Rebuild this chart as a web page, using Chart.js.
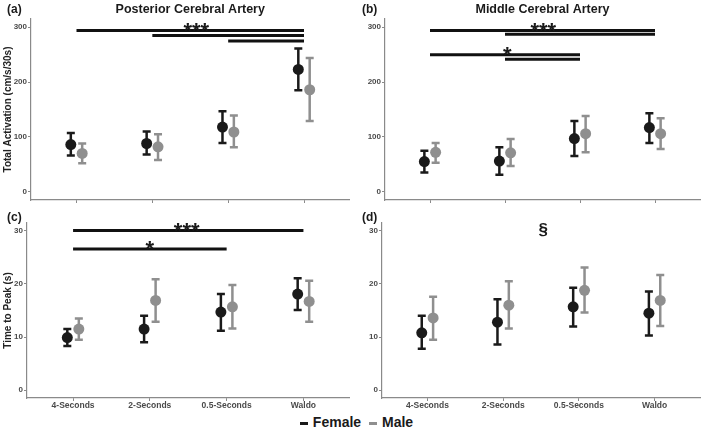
<!DOCTYPE html>
<html>
<head>
<meta charset="utf-8">
<script src="https://cdn.jsdelivr.net/npm/chart.js@4.4.0/dist/chart.umd.min.js"></script>
<style>
  body { margin: 0; background: #fff; }
  #fig { position: relative; width: 709px; height: 433px; font-family: "Liberation Sans", Arial, sans-serif; }
  #fig canvas { position: absolute; }
  #legend { position: absolute; left: 0; top: 414px; width: 709px; text-align: center; font-weight: bold; font-size: 14px; color: #1a1a1a; }
  #legend span.key { display: inline-block; width: 8px; height: 3px; vertical-align: middle; margin: 0 5px 0 4px; }
</style>
</head>
<body>
<div id="fig">
  <canvas id="pcaAct" width="355" height="208" style="left:0;top:0"></canvas>
  <canvas id="mcaAct" width="354" height="208" style="left:355px;top:0"></canvas>
  <canvas id="pcaTtp" width="355" height="202" style="left:0;top:208px"></canvas>
  <canvas id="mcaTtp" width="354" height="202" style="left:355px;top:208px"></canvas>
  <div id="legend"><span class="key" style="background:#1a1a1a"></span>Female <span class="key" style="background:#8f8f8f"></span>Male</div>
</div>
<script>
// categories (x axis)
var categories = ['4-Seconds', '2-Seconds', '0.5-Seconds', 'Waldo'];

// (a) Posterior Cerebral Artery - total activation
var pcaActFemale = [86, 88, 118, 223];
var pcaActFemaleLow = [66, 68, 89, 185];
var pcaActFemaleHigh = [107, 110, 147, 261];
var pcaActMale = [70, 82, 109, 186];
var pcaActMaleLow = [52, 58, 81, 129];
var pcaActMaleHigh = [88, 105, 139, 244];
var pcaActSig = [[1, 4, 294], [2, 4, 285], [3, 4, 275]];
var pcaActMarks = [['***', 2.58, 281]];

// (b) Middle Cerebral Artery - total activation
var mcaActFemale = [55, 56, 97, 117];
var mcaActFemaleLow = [35, 31, 65, 89];
var mcaActFemaleHigh = [75, 81, 129, 143];
var mcaActMale = [72, 71, 106, 106];
var mcaActMaleLow = [53, 47, 72, 78];
var mcaActMaleHigh = [89, 96, 138, 134];
var mcaActSig = [[1, 4, 294], [2, 4, 287], [1, 3, 250], [2, 3, 241.5]];
var mcaActMarks = [['***', 2.51, 281], ['*', 2.03, 237]];

// (c) time to peak, PCA
var pcaTtpFemale = [9.9, 11.5, 14.7, 18.1];
var pcaTtpFemaleLow = [8.3, 9.0, 11.2, 15.1];
var pcaTtpFemaleHigh = [11.5, 14.0, 18.1, 21.1];
var pcaTtpMale = [11.5, 16.9, 15.7, 16.7];
var pcaTtpMaleLow = [9.5, 12.9, 11.6, 12.9];
var pcaTtpMaleHigh = [13.5, 20.9, 19.8, 20.6];
var pcaTtpSig = [[1, 4, 30.1], [1, 3, 26.6]];
var pcaTtpMarks = [['***', 2.48, 28.6], ['*', 2.0, 25.3]];

// (d) time to peak, MCA
var mcaTtpFemale = [10.8, 12.8, 15.7, 14.5];
var mcaTtpFemaleLow = [7.8, 8.6, 12.0, 10.3];
var mcaTtpFemaleHigh = [14.0, 17.1, 19.3, 18.6];
var mcaTtpMale = [13.6, 16.0, 18.8, 16.9];
var mcaTtpMaleLow = [9.5, 11.6, 14.6, 12.1];
var mcaTtpMaleHigh = [17.6, 20.5, 23.1, 21.7];
var mcaTtpSig = [];
var mcaTtpMarks = [['§', 2.53, 29.2]];

// y tick labels
var actTicks = [0, 100, 200, 300];
var ttpTicks = [0, 10, 20, 30];

var femaleColor = '#1a1a1a';
var maleColor = '#8f8f8f';
var axisColor = '#8a8a8a';
var labelColor = '#4a4a4a';
var fontFamily = '"Liberation Sans", Arial, sans-serif';
var dodge = 0.075;

// draws the error bars under the points
var errorBarPlugin = {
    id: 'errorBars',
    beforeDatasetsDraw: function(chart) {
        var ctx = chart.ctx;
        var y = chart.scales.y;
        chart.data.datasets.forEach(function(ds, di) {
            if (!ds.errLow) return;
            var meta = chart.getDatasetMeta(di);
            ctx.save();
            ctx.strokeStyle = ds.borderColor;
            ctx.lineWidth = 2.5;
            meta.data.forEach(function(pt, i) {
                var lo = y.getPixelForValue(ds.errLow[i]);
                var hi = y.getPixelForValue(ds.errHigh[i]);
                ctx.beginPath();
                ctx.moveTo(pt.x, lo); ctx.lineTo(pt.x, hi);
                ctx.moveTo(pt.x - 4, lo); ctx.lineTo(pt.x + 4, lo);
                ctx.moveTo(pt.x - 4, hi); ctx.lineTo(pt.x + 4, hi);
                ctx.stroke();
            });
            ctx.restore();
        });
    }
};

// panel letter, panel title and significance marks
var textPlugin = {
    id: 'panelText',
    afterDraw: function(chart) {
        var o = chart.options.plugins.panelText;
        var ctx = chart.ctx;
        var area = chart.chartArea;
        ctx.save();
        ctx.fillStyle = '#1a1a1a';
        ctx.textBaseline = 'middle';
        ctx.font = 'bold 12px ' + fontFamily;
        ctx.textAlign = 'left';
        ctx.fillText(o.letter, 7, 10);
        if (o.title) {
            ctx.font = 'bold 12.5px ' + fontFamily;
            ctx.textAlign = 'center';
            ctx.fillText(o.title, (area.left + area.right) / 2, 10);
        }
        ctx.textAlign = 'center';
        ctx.textBaseline = 'alphabetic';
        o.marks.forEach(function(m) {
            ctx.font = (m[0] === '§' ? 'bold 17px ' : 'bold 22px ') + fontFamily;
            ctx.fillText(m[0], chart.scales.x.getPixelForValue(m[1]), chart.scales.y.getPixelForValue(m[2]));
        });
        ctx.restore();
    }
};

function buildPanel(id, p) {
    var ctx = document.getElementById(id).getContext('2d');
    var datasets = [];
    datasets.push({
        label: 'Female',
        data: p.female.map(function(v, i) { return {x: i + 1 - dodge, y: v}; }),
        errLow: p.femaleLow, errHigh: p.femaleHigh,
        backgroundColor: femaleColor, borderColor: femaleColor,
        pointRadius: 5.5, pointBorderWidth: 0
    });
    datasets.push({
        label: 'Male',
        data: p.male.map(function(v, i) { return {x: i + 1 + dodge, y: v}; }),
        errLow: p.maleLow, errHigh: p.maleHigh,
        backgroundColor: maleColor, borderColor: maleColor,
        pointRadius: 5.5, pointBorderWidth: 0
    });
    // significance brackets as plain line segments
    p.sig.forEach(function(s) {
        datasets.push({
            data: [{x: s[0], y: s[2]}, {x: s[1], y: s[2]}],
            showLine: true, borderColor: '#111', borderWidth: 3,
            borderCapStyle: 'butt', pointRadius: 0
        });
    });

    return new Chart(ctx, {
        type: 'scatter',
        data: {datasets: datasets},
        plugins: [errorBarPlugin, textPlugin],
        options: {
            responsive: false,
            animation: false,
            events: [],
            layout: {padding: {top: p.top, left: 0, right: p.right, bottom: 0}},
            plugins: {
                legend: {display: false},
                tooltip: {enabled: false},
                panelText: {letter: p.letter, title: p.title, marks: p.marks}
            },
            scales: {
                x: {
                    min: 0.4, max: 4.6,
                    afterBuildTicks: function(s) { s.ticks = categories.map(function(c, i) { return {value: i + 1}; }); },
                    afterFit: function(s) { s.height = p.xHeight; },
                    border: {color: axisColor, width: 1.2},
                    grid: {drawOnChartArea: false, tickLength: 3, color: axisColor},
                    ticks: {
                        display: p.xLabels, padding: 0, color: labelColor,
                        font: {family: fontFamily, size: 8.5, weight: 'bold'},
                        callback: function(v) { return categories[Math.round(v) - 1]; }
                    }
                },
                y: {
                    min: p.yMin, max: p.yMax,
                    afterBuildTicks: function(s) { s.ticks = p.yTicks.map(function(v) { return {value: v}; }); },
                    afterFit: function(s) { s.width = p.yWidth; },
                    border: {color: axisColor, width: 1.2},
                    grid: {drawOnChartArea: false, tickLength: 3, color: axisColor},
                    ticks: {
                        padding: 1, color: labelColor,
                        font: {family: fontFamily, size: 8, weight: 'bold'}
                    },
                    title: {
                        display: !!p.yTitle, text: p.yTitle, color: '#222',
                        font: {family: fontFamily, size: 10, weight: 'bold'},
                        padding: {top: 2, bottom: 0}
                    }
                }
            }
        }
    });
}

buildPanel('pcaAct', {
    female: pcaActFemale, femaleLow: pcaActFemaleLow, femaleHigh: pcaActFemaleHigh,
    male: pcaActMale, maleLow: pcaActMaleLow, maleHigh: pcaActMaleHigh,
    sig: pcaActSig, marks: pcaActMarks, letter: '(a)', title: 'Posterior Cerebral Artery',
    yMin: -15, yMax: 315, yTicks: actTicks, yTitle: 'Total Activation (cm/s/30s)',
    top: 19, right: 5, yWidth: 31, xHeight: 8, xLabels: false
});
buildPanel('mcaAct', {
    female: mcaActFemale, femaleLow: mcaActFemaleLow, femaleHigh: mcaActFemaleHigh,
    male: mcaActMale, maleLow: mcaActMaleLow, maleHigh: mcaActMaleHigh,
    sig: mcaActSig, marks: mcaActMarks, letter: '(b)', title: 'Middle Cerebral Artery',
    yMin: -15, yMax: 315, yTicks: actTicks, yTitle: '',
    top: 19, right: 9, yWidth: 30, xHeight: 8, xLabels: false
});
buildPanel('pcaTtp', {
    female: pcaTtpFemale, femaleLow: pcaTtpFemaleLow, femaleHigh: pcaTtpFemaleHigh,
    male: pcaTtpMale, maleLow: pcaTtpMaleLow, maleHigh: pcaTtpMaleHigh,
    sig: pcaTtpSig, marks: pcaTtpMarks, letter: '(c)', title: '',
    yMin: -1.5, yMax: 31.5, yTicks: ttpTicks, yTitle: 'Time to Peak (s)',
    top: 15, right: 5, yWidth: 27, xHeight: 12, xLabels: true
});
buildPanel('mcaTtp', {
    female: mcaTtpFemale, femaleLow: mcaTtpFemaleLow, femaleHigh: mcaTtpFemaleHigh,
    male: mcaTtpMale, maleLow: mcaTtpMaleLow, maleHigh: mcaTtpMaleHigh,
    sig: mcaTtpSig, marks: mcaTtpMarks, letter: '(d)', title: '',
    yMin: -1.5, yMax: 31.5, yTicks: ttpTicks, yTitle: '',
    top: 15, right: 9, yWidth: 27, xHeight: 12, xLabels: true
});
</script>
</body>
</html>
